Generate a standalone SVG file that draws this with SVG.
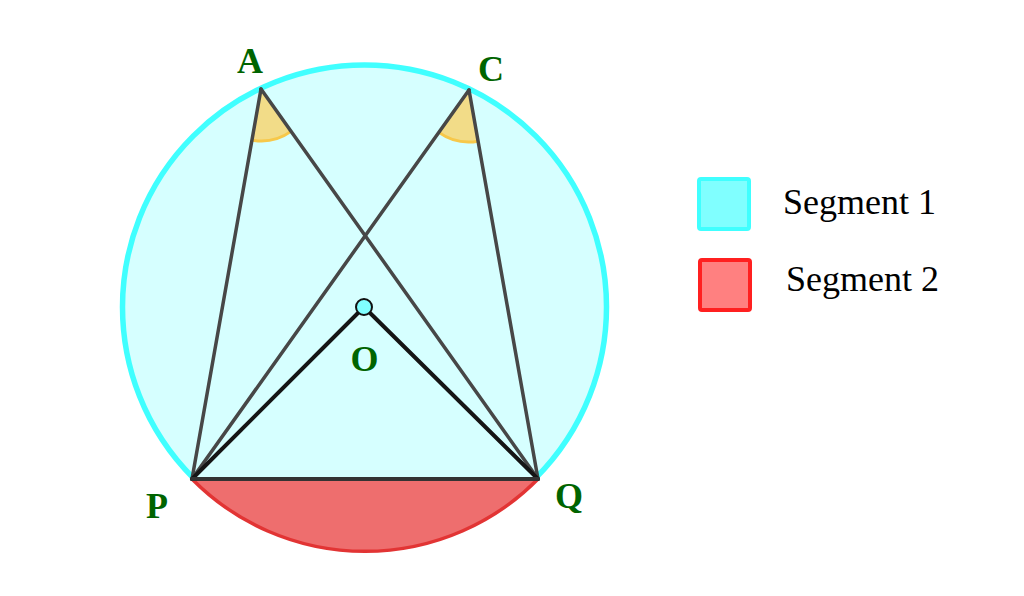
<svg xmlns="http://www.w3.org/2000/svg" width="1024" height="596" viewBox="0 0 1024 596">
  <style>
    .lbl { font-family: "Liberation Serif", "Times New Roman", serif; font-weight: bold; font-size: 36px; fill: #006400; }
    .leg { font-family: "Liberation Serif", "Times New Roman", serif; font-size: 36px; fill: #000; }
    .chord { stroke: #474747; stroke-width: 3.5; stroke-linecap: round; fill: none; }
    .radius { stroke: #151515; stroke-width: 4; stroke-linecap: round; fill: none; }
    .sector { fill: #f2dc88; stroke: none; }
    .angarc { fill: none; stroke: #f7c84a; stroke-width: 3; }
  </style>
  <rect width="1024" height="596" fill="#ffffff"/>

  <g id="circle">
    <circle cx="364.5" cy="307" r="242" fill="#d6ffff" stroke="#40ffff" stroke-width="5.5"/>
  </g>

  <g id="segment2">
    <path d="M192,479 A243,243 0 0 0 538,479 Z" fill="#ee6e6e" stroke="none"/>
    <path d="M192,479 A243,243 0 0 0 538,479" fill="none" stroke="#e23434" stroke-width="3.5"/>
  </g>

  <g id="angleA">
    <path class="sector" d="M261,89 L252,140.2 A52,52 0 0 0 291.1,131.4 Z"/>
    <path class="angarc" d="M252,140.2 A52,52 0 0 0 291.1,131.4"/>
  </g>
  <g id="angleC">
    <path class="sector" d="M469,90 L438.8,132.4 A52,52 0 0 0 478.1,141.2 Z"/>
    <path class="angarc" d="M438.8,132.4 A52,52 0 0 0 478.1,141.2"/>
  </g>

  <g id="connectors">
    <line class="chord" x1="261" y1="89" x2="192" y2="479"/>
    <line class="chord" x1="261" y1="89" x2="538" y2="479"/>
    <line class="chord" x1="469" y1="90" x2="192" y2="479"/>
    <line class="chord" x1="469" y1="90" x2="538" y2="479"/>
    <line class="radius" x1="364" y1="307" x2="192" y2="479"/>
    <line class="radius" x1="364" y1="307" x2="538" y2="479"/>
    <line x1="192" y1="479" x2="538" y2="479" stroke="#333333" stroke-width="4" stroke-linecap="round"/>
  </g>

  <g id="O">
    <circle cx="364" cy="307" r="8" fill="#80ffff" stroke="#111111" stroke-width="2"/>
    <text class="lbl" x="364.5" y="371" text-anchor="middle">O</text>
  </g>
  <g id="A"><text class="lbl" x="237" y="73">A</text></g>
  <g id="C"><text class="lbl" x="478" y="81">C</text></g>
  <g id="P"><text class="lbl" x="146" y="518">P</text></g>
  <g id="Q"><text class="lbl" x="555" y="508">Q</text></g>

  <g id="legend1">
    <rect x="699" y="179" width="50" height="50" rx="2" fill="#80ffff" stroke="#40ffff" stroke-width="4"/>
    <text class="leg" x="783" y="214">Segment 1</text>
  </g>
  <g id="legend2">
    <rect x="700" y="260" width="50" height="50" rx="2" fill="#ff8080" stroke="#ff2020" stroke-width="4"/>
    <text class="leg" x="786" y="291">Segment 2</text>
  </g>
</svg>
